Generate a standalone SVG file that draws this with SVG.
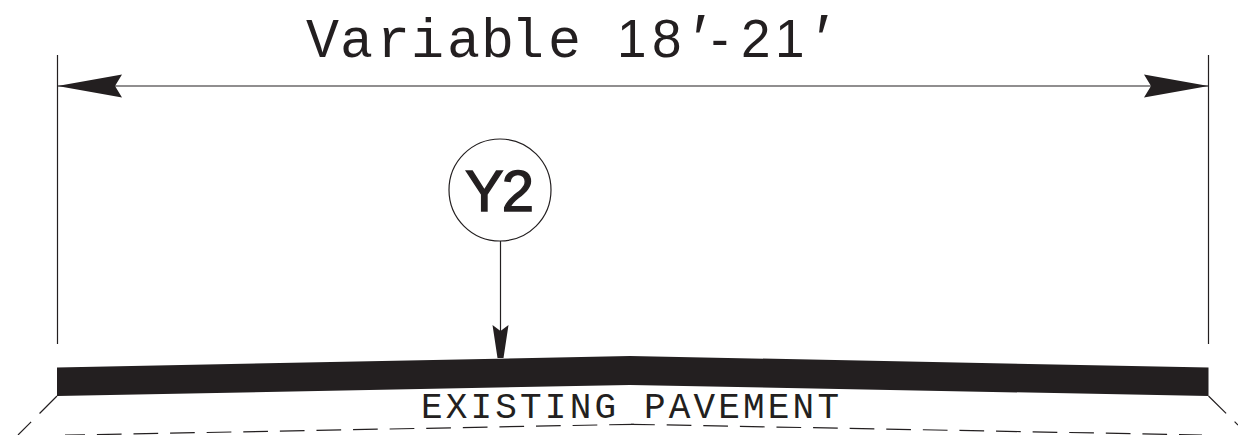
<svg xmlns="http://www.w3.org/2000/svg" width="1238" height="435" viewBox="0 0 1238 435">
<style>
.ln{fill:none;stroke:#231f20;stroke-width:1.2}
.dash{fill:none;stroke:#231f20;stroke-width:1.2;stroke-dasharray:24.7 11.9}
.fill{fill:#231f20}
.mono{font-family:"Liberation Mono",monospace;fill:#231f20}
.sans{font-family:"Liberation Sans",sans-serif;fill:#231f20}
</style>
<defs>
<marker id="head" markerUnits="userSpaceOnUse" markerWidth="66" markerHeight="24" refX="65" refY="12" orient="auto-start-reverse" viewBox="0 0 66 24"><path d="M65 12L0.5 0.5L7.5 12L0.5 23.5Z" fill="#231f20"/></marker>
<marker id="small" markerUnits="userSpaceOnUse" markerWidth="18" markerHeight="40" refX="9" refY="33" orient="0" viewBox="0 0 18 40"><path d="M1 0L9 6L17 0L12 33H6Z" fill="#231f20"/></marker>
</defs>
<rect width="1238" height="435" fill="#fff"/>
<g id="dimension-label"><text y="57"><tspan class="mono" font-size="55" x="306 340 377 411 447 481 511 548">Variable</tspan><tspan class="sans" font-size="53" x="617 652">18</tspan><tspan class="sans" font-size="68" font-style="italic" x="690" y="61.5">′</tspan><tspan class="sans" font-size="53" x="711 741 775" y="57">-21</tspan><tspan class="sans" font-size="68" font-style="italic" x="813" y="61.5">′</tspan></text></g>
<g id="pavement-layer"><path class="fill" d="M57 367.5L630 356L1208.5 367.5V396L630 385L57 396Z"/></g>
<g id="existing-pavement"><text class="mono" x="421" y="418" font-size="36" textLength="418">EXISTING PAVEMENT</text></g>
<g id="callout-y2">
<circle cx="500" cy="190" r="51" fill="#fff" stroke="#231f20" stroke-width="1.2"/>
<text x="498.5" y="211" text-anchor="middle" class="sans" font-size="58" stroke="#231f20" stroke-width="1.4" letter-spacing="-2">Y2</text>
</g>
<g id="connectors">
<path class="ln" d="M57.5 55V344M1208.5 55V344"/>
<path class="ln" d="M57.5 86H1208.5" marker-start="url(#head)" marker-end="url(#head)"/>
<path class="ln" d="M500.5 241V358" marker-end="url(#small)"/>
<path class="dash" d="M57 396L18 435"/>
<path class="dash" d="M1208.5 396L1238 425"/>
<path class="dash" d="M65 435.2L634 424.3" stroke-dashoffset="4.7"/>
<path class="dash" d="M1202 435L631 424.3" stroke-dashoffset="1.7"/>
</g>
</svg>
